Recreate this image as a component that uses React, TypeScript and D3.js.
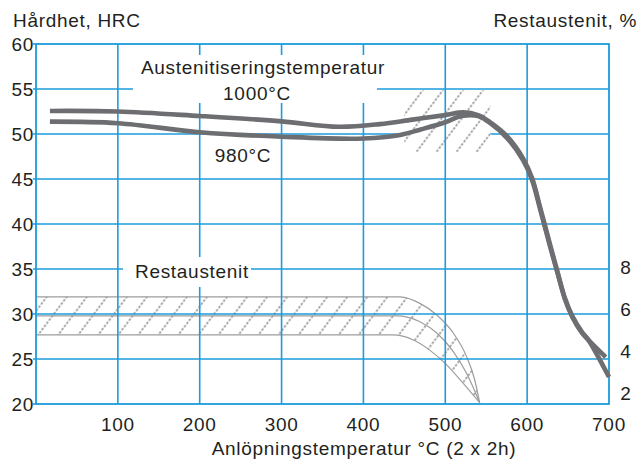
import { useEffect, useRef } from 'react';
import * as d3 from 'd3';

const hardnessTicks = [25, 30, 35, 40, 45, 50, 55];
const hardnessLabels = [20, 25, 30, 35, 40, 45, 50, 55, 60];
const tempTicks = [100, 200, 300, 400, 500, 600];
const tempLabels = [100, 200, 300, 400, 500, 600, 700];
const austeniteLabels = [2, 4, 6, 8];

// Austenitiseringstemperatur 1000°C
const temp1000 = [17, 100, 200, 300, 370, 420, 460, 500, 522, 540, 555, 575, 595, 606, 616, 628, 637, 646, 655, 667, 675, 700];
const hrc1000 = [52.56, 52.5, 52.0, 51.4, 50.8, 51.1, 51.6, 52.1, 52.4, 52.1, 51.3, 49.8, 47.3, 45.1, 41.8, 37.7, 34.7, 31.8, 29.8, 28.0, 27.1, 23.0];

// 980°C
const temp980 = [17, 100, 200, 300, 400, 445, 470, 500, 520, 540, 555, 575, 595, 606, 616, 628, 637, 646, 655, 667, 675, 696];
const hrc980 = [51.37, 51.2, 50.2, 49.7, 49.5, 49.9, 50.5, 51.3, 52.0, 52.0, 51.2, 49.6, 47.1, 44.9, 41.6, 37.5, 34.6, 31.7, 29.7, 27.9, 27.1, 25.2];

// Restaustenit band (%), upper / middle / lower border
const bandTopT = [0, 445, 469, 490, 510, 526, 536, 542];
const bandTopPct = [6.59, 6.59, 6.28, 5.72, 4.86, 3.75, 2.64, 1.56];
const bandMidT = [0, 441, 469, 490, 510, 526, 542];
const bandMidPct = [5.69, 5.69, 5.41, 4.86, 3.98, 2.96, 1.56];
const bandLowT = [0, 436, 461, 481, 502, 522, 542];
const bandLowPct = [4.78, 4.78, 4.54, 4.06, 3.35, 2.48, 1.56];

// hatched zone around the secondary hardness peak
const peakZoneT = [450, 555];
const peakZoneHrc = [48, 54.85];

const blue = '#1b9ddb';
const grey = '#6d6e71';
const ink = '#231f20';
const font = '"Liberation Sans", Arial, Helvetica, sans-serif';

function App() {
  const ref = useRef<SVGSVGElement>(null);

  useEffect(() => {
    const svg = d3.select(ref.current);
    svg.selectAll('*').remove();

    const x = d3.scaleLinear().domain([0, 700]).range([36, 609]);
    const y = d3.scaleLinear().domain([20, 60]).range([404, 44]);
    const yR = d3.scaleLinear().domain([2, 8]).range([y(21.17), y(35.2)]);

    const defs = svg.append('defs');
    const pat = defs.append('pattern')
      .attr('id', 'hatch')
      .attr('patternUnits', 'userSpaceOnUse')
      .attr('width', 16).attr('height', 16)
      .attr('patternTransform', 'rotate(37)');
    pat.append('line')
      .attr('x1', 8).attr('y1', 0).attr('x2', 8).attr('y2', 16)
      .attr('stroke', '#9c9c9c').attr('stroke-width', 1.7)
      .attr('stroke-dasharray', '2.5 1.5');

    const bandLine = d3.line<[number, number]>()
      .x(d => x(d[0])).y(d => yR(d[1]))
      .curve(d3.curveMonotoneX);
    const top = bandTopT.map((t, i) => [t, bandTopPct[i]] as [number, number]);
    const mid = bandMidT.map((t, i) => [t, bandMidPct[i]] as [number, number]);
    const low = bandLowT.map((t, i) => [t, bandLowPct[i]] as [number, number]);

    // band hatch
    const areaPath = bandLine(top) + 'L' + (bandLine(low.slice().reverse()) as string).slice(1) + 'Z';
    svg.append('path').attr('d', areaPath).attr('fill', 'url(#hatch)');
    for (const pts of [top, mid, low]) {
      svg.append('path').attr('d', bandLine(pts))
        .attr('fill', 'none').attr('stroke', '#9d9d9d').attr('stroke-width', 1.2);
    }

    // horizontal grid
    svg.selectAll('.hgrid').data(hardnessTicks).enter().append('line')
      .attr('x1', 33).attr('x2', 609)
      .attr('y1', d => y(d)).attr('y2', d => y(d))
      .attr('stroke', blue).attr('stroke-width', 1.6);

    // hatched zone near 500 °C
    const zone = () => svg.append('rect')
      .attr('x', x(peakZoneT[0])).attr('y', y(peakZoneHrc[1]))
      .attr('width', x(peakZoneT[1]) - x(peakZoneT[0]))
      .attr('height', y(peakZoneHrc[0]) - y(peakZoneHrc[1]));
    zone().attr('fill', 'white');
    zone().attr('fill', 'url(#hatch)');

    // vertical grid
    svg.selectAll('.vgrid').data(tempTicks).enter().append('line')
      .attr('x1', d => x(d)).attr('x2', d => x(d))
      .attr('y1', 44).attr('y2', 404)
      .attr('stroke', blue).attr('stroke-width', 1.6);

    // frame
    svg.append('rect')
      .attr('x', 36).attr('y', 44).attr('width', 573).attr('height', 360)
      .attr('fill', 'none').attr('stroke', blue).attr('stroke-width', 1.8);
    [60, 20].forEach(v => svg.append('line')
      .attr('x1', 33).attr('x2', 36).attr('y1', y(v)).attr('y2', y(v))
      .attr('stroke', blue).attr('stroke-width', 1.6));

    // white space behind the labels
    svg.append('rect').attr('x', 133).attr('y', 55).attr('width', 244).attr('height', 48).attr('fill', 'white');
    svg.append('rect').attr('x', 123).attr('y', 257).attr('width', 128).attr('height', 30).attr('fill', 'white');

    // curves
    const line = d3.line<[number, number]>()
      .x(d => x(d[0])).y(d => y(d[1]))
      .curve(d3.curveCatmullRom.alpha(0.5));
    const c1000 = temp1000.map((t, i) => [t, hrc1000[i]] as [number, number]);
    const c980 = temp980.map((t, i) => [t, hrc980[i]] as [number, number]);
    for (const pts of [c980, c1000]) {
      svg.append('path').attr('d', line(pts))
        .attr('fill', 'none').attr('stroke', grey)
        .attr('stroke-width', 4.6).attr('stroke-linejoin', 'round');
    }

    const text = (s: string, tx: number, ty: number, anchor = 'start') =>
      svg.append('text').attr('x', tx).attr('y', ty).text(s)
        .attr('text-anchor', anchor)
        .attr('font-family', font).attr('font-size', 19)
        .attr('letter-spacing', '0.7px')
        .attr('fill', ink);

    hardnessLabels.forEach(v => text(String(v), 34, y(v) + 6.8, 'end'));
    tempLabels.forEach(v => text(String(v), x(v), 431, 'middle'));
    austeniteLabels.forEach(v => text(String(v), 626, yR(v) + 6.8, 'middle'));

    text('Hårdhet, HRC', 13, 27);
    text('Restaustenit, %', 637, 27, 'end');
    text('Anlöpningstemperatur °C (2 x 2h)', 364, 455, 'middle');
    text('Austenitiseringstemperatur', 263, 74, 'middle');
    text('1000°C', 257, 100, 'middle');
    text('980°C', 243, 162, 'middle');
    text('Restaustenit', 192, 278, 'middle');
  }, []);

  return (
    <svg ref={ref} width={641} height={461}
      style={{ position: 'absolute', left: 0, top: 0, background: 'white' }} />
  );
}

export default App;
